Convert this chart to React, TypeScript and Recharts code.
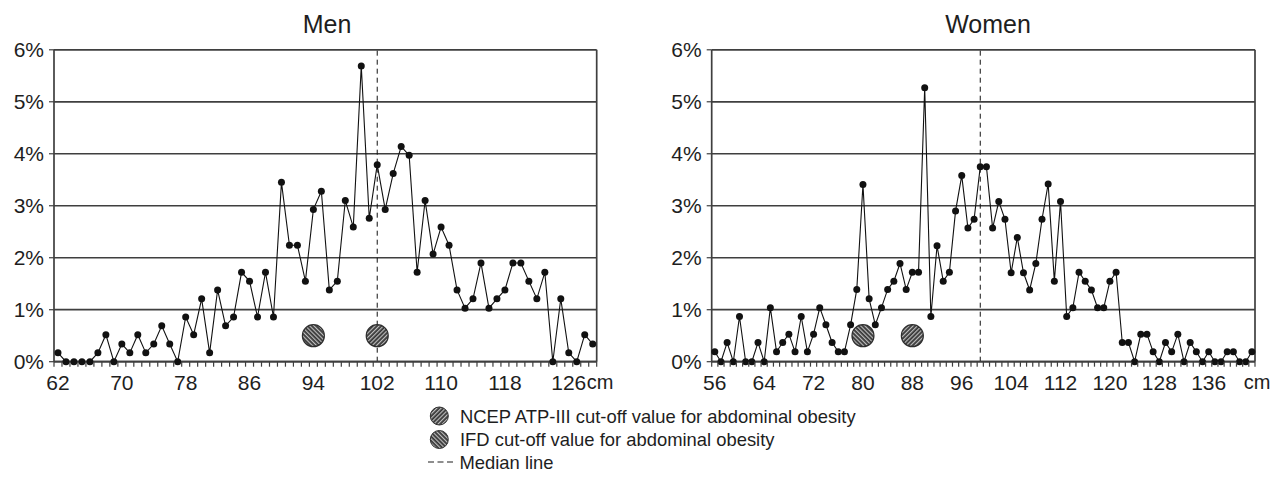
import React from "react";
import {
  CartesianGrid,
  ComposedChart,
  Line,
  ReferenceDot,
  ReferenceLine,
  XAxis,
  YAxis
} from "recharts";

// waist circumference distribution, % of subjects per 1 cm
const menFrom = 62;
const menPct = [
  0.17, 0, 0, 0, 0, 0.17, 0.52, 0, 0.34, 0.17,
  0.52, 0.17, 0.34, 0.69, 0.34, 0, 0.86, 0.52, 1.21, 0.17,
  1.38, 0.69, 0.86, 1.72, 1.55, 0.86, 1.72, 0.86, 3.45, 2.24,
  2.24, 1.55, 2.93, 3.28, 1.38, 1.55, 3.1, 2.59, 5.69, 2.76,
  3.79, 2.93, 3.62, 4.14, 3.97, 1.72, 3.1, 2.07, 2.59, 2.24,
  1.38, 1.03, 1.21, 1.9, 1.03, 1.21, 1.38, 1.9, 1.9, 1.55,
  1.21, 1.72, 0, 1.21, 0.17, 0, 0.52, 0.34
];
const menLabels = [62, 70, 78, 86, 94, 102, 110, 118, 126];
const menNcep = 102;
const menIdf = 94;
const menMedian = 102;

const womenFrom = 56;
const womenPct = [
  0.19, 0, 0.37, 0, 0.87, 0, 0, 0.37, 0, 1.04,
  0.19, 0.37, 0.53, 0.19, 0.87, 0.19, 0.53, 1.04, 0.71, 0.37,
  0.19, 0.19, 0.71, 1.39, 3.41, 1.21, 0.71, 1.04, 1.39, 1.55,
  1.89, 1.39, 1.72, 1.72, 5.27, 0.87, 2.23, 1.55, 1.72, 2.9,
  3.58, 2.57, 2.74, 3.75, 3.75, 2.57, 3.08, 2.74, 1.71, 2.39,
  1.71, 1.38, 1.89, 2.74, 3.42, 1.55, 3.08, 0.87, 1.04, 1.72,
  1.55, 1.38, 1.04, 1.04, 1.55, 1.72, 0.37, 0.37, 0, 0.53,
  0.53, 0.19, 0, 0.37, 0.19, 0.53, 0, 0.37, 0.19, 0,
  0.19, 0, 0, 0.19, 0.19, 0, 0, 0.19
];
const womenLabels = [56, 64, 72, 80, 88, 96, 104, 112, 120, 128, 136];
const womenNcep = 88;
const womenIdf = 80;
const womenMedian = 99;

const pctTicks = [0, 1, 2, 3, 4, 5, 6];
const markerLevel = 0.5;

const FONT = "'Liberation Sans', Arial, sans-serif";
const INK = "#111";
const GRID = "#3f3f3f";
const TEXT = "#1e1e1e";

function toRows(from: number, values: number[]) {
  return values.map((pct, i) => ({ cm: from + i, pct }));
}

function CmTick(props: any) {
  const { x, y, payload, labels, unitDx } = props;
  const v = payload.value;
  if (!Number.isInteger(v)) {
    return <line x1={x} x2={x} y1={y} y2={y + 5} stroke={GRID} strokeWidth={1.2} />;
  }
  if (!labels.includes(v)) return <g />;
  const last = v === labels[labels.length - 1];
  return (
    <g>
      <text x={x} y={y + 13} dy="0.71em" textAnchor="middle" fontSize={21} fill={TEXT} fontFamily={FONT}>
        {v}
      </text>
      {last && (
        <text x={x + unitDx} y={y + 13} dy="0.71em" textAnchor="start" fontSize={20} fill={TEXT} fontFamily={FONT}>
          cm
        </text>
      )}
    </g>
  );
}

type PanelProps = {
  from: number;
  values: number[];
  labels: number[];
  ncep: number;
  idf: number;
  median: number;
  width: number;
  yWidth: number;
  right: number;
  unitDx: number;
};

function Panel({ from, values, labels, ncep, idf, median, width, yWidth, right, unitDx }: PanelProps) {
  const rows = toRows(from, values);
  const lo = from - 0.5;
  const hi = from + values.length - 0.5;
  const ticks: number[] = [];
  for (let b = lo; b <= hi; b += 1) ticks.push(b);
  labels.forEach((l) => ticks.push(l));
  ticks.sort((a, b) => a - b);

  return (
    <ComposedChart
      width={width}
      height={400}
      data={rows}
      margin={{ top: 49.8, right, bottom: 8.3, left: 0 }}
    >
      <CartesianGrid vertical={false} stroke={GRID} strokeWidth={1.7} />
      <XAxis
        dataKey="cm"
        type="number"
        domain={[lo, hi]}
        ticks={ticks}
        interval={0}
        height={30}
        tickSize={0}
        tickMargin={0}
        tickLine={false}
        axisLine={{ stroke: GRID, strokeWidth: 1.7 }}
        tick={(p: any) => <CmTick {...p} labels={labels} unitDx={unitDx} />}
      />
      <YAxis
        type="number"
        domain={[0, 6]}
        ticks={pctTicks}
        width={yWidth}
        tickSize={5}
        tickMargin={5}
        tickFormatter={(v: number) => `${v}%`}
        tick={{ fontSize: 21, fill: TEXT, fontFamily: FONT }}
        tickLine={{ stroke: GRID, strokeWidth: 1.2 }}
        axisLine={{ stroke: GRID, strokeWidth: 1.7 }}
      />
      <ReferenceLine x={hi} stroke={GRID} strokeWidth={1.7} />
      <ReferenceLine x={median} stroke={INK} strokeWidth={1} strokeDasharray="5 4" />
      <Line
        dataKey="pct"
        stroke={INK}
        strokeWidth={1.1}
        dot={{ r: 3.5, fill: INK, stroke: INK, strokeWidth: 0 }}
        isAnimationActive={false}
      />
      <ReferenceDot x={idf} y={markerLevel} r={11} fill="url(#hatchIdf)" stroke="#2e2e2e" strokeWidth={1.2} />
      <ReferenceDot x={ncep} y={markerLevel} r={11} fill="url(#hatchNcep)" stroke="#2e2e2e" strokeWidth={1.2} />
    </ComposedChart>
  );
}

export default function App() {
  return (
    <div
      style={{
        position: "absolute",
        left: 0,
        top: 0,
        width: 1273,
        height: 479,
        background: "#fff",
        fontFamily: FONT
      }}
    >
      <svg width={0} height={0} style={{ position: "absolute" }}>
        <defs>
          <pattern id="hatchNcep" width="3" height="3" patternUnits="userSpaceOnUse" patternTransform="rotate(45)">
            <rect width="3" height="3" fill="#363636" />
            <rect width="1.2" height="3" fill="#bdbdbd" />
          </pattern>
          <pattern id="hatchIdf" width="3" height="3" patternUnits="userSpaceOnUse" patternTransform="rotate(-45)">
            <rect width="3" height="3" fill="#363636" />
            <rect width="1.2" height="3" fill="#bdbdbd" />
          </pattern>
        </defs>
      </svg>

      <div style={{ position: "absolute", left: 0, top: 0 }}>
        <Panel
          from={menFrom}
          values={menPct}
          labels={menLabels}
          ncep={menNcep}
          idf={menIdf}
          median={menMedian}
          width={640}
          yWidth={54}
          right={43.3}
          unitDx={18}
        />
      </div>
      <div style={{ position: "absolute", left: 640, top: 0 }}>
        <Panel
          from={womenFrom}
          values={womenPct}
          labels={womenLabels}
          ncep={womenNcep}
          idf={womenIdf}
          median={womenMedian}
          width={633}
          yWidth={71.7}
          right={18}
          unitDx={35}
        />
      </div>

      <svg
        width={1273}
        height={479}
        style={{ position: "absolute", left: 0, top: 0, pointerEvents: "none" }}
      >
        <text x={327} y={33.3} textAnchor="middle" fontSize={25} fill={TEXT} fontFamily={FONT}>
          Men
        </text>
        <text x={988} y={33.3} textAnchor="middle" fontSize={25} fill={TEXT} fontFamily={FONT}>
          Women
        </text>

        <circle cx={439.3} cy={416} r={9} fill="url(#hatchNcep)" stroke="#2e2e2e" strokeWidth={1} />
        <text x={460} y={422.5} fontSize={18.4} fill={TEXT} fontFamily={FONT}>
          NCEP ATP-III cut-off value for abdominal obesity
        </text>
        <circle cx={439.3} cy={439.5} r={9} fill="url(#hatchIdf)" stroke="#2e2e2e" strokeWidth={1} />
        <text x={460} y={446} fontSize={18.4} fill={TEXT} fontFamily={FONT}>
          IFD cut-off value for abdominal obesity
        </text>
        <line x1={428} x2={453} y1={462} y2={462} stroke={TEXT} strokeWidth={1.2} strokeDasharray="6 3.5" />
        <text x={459.5} y={468.5} fontSize={18.4} fill={TEXT} fontFamily={FONT}>
          Median line
        </text>
      </svg>
    </div>
  );
}
